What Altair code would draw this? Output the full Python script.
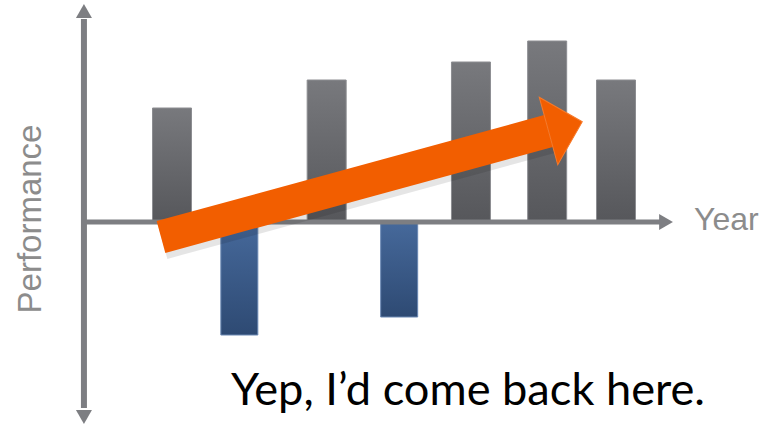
import altair as alt
import pandas as pd

# ---- data ----
# positions of the seven yearly bars along the (unlabelled) year axis, as drawn
year_pos = [1.0, 1.91, 3.09, 4.07, 5.04, 6.07, 7.0]
performance = [114, -113, 142, -95, 160, 181, 142]

# trend arrow (data units): tail -> head base
trend_x = [0.851, 6.088]
trend_y = [-15, 91]

# axis geometry (data units)
axis_x0 = -0.19
axis_x_end = 7.6
axis_y_lo, axis_y_hi = -186, 203

W, H = 776, 426
xs = alt.Scale(domain=[-98 / 74, 678 / 74], nice=False, zero=False, padding=0)
ys = alt.Scale(domain=[-204, 222], nice=False, zero=False, padding=0)

df = pd.DataFrame({"year": year_pos, "value": performance, "zero": [0] * len(year_pos)})

gray_grad = alt.Gradient(
    gradient="linear", x1=0, x2=0, y1=0, y2=1,
    stops=[alt.GradientStop(color="#78797d", offset=0),
           alt.GradientStop(color="#56575b", offset=1)])
blue_grad = alt.Gradient(
    gradient="linear", x1=0, x2=0, y1=0, y2=1,
    stops=[alt.GradientStop(color="#46699b", offset=0),
           alt.GradientStop(color="#2e4a73", offset=1)])

base = alt.Chart(df)
pos_bars = base.transform_filter("datum.value > 0").mark_bar(
    size=39, color=gray_grad, stroke="#8c8d91", strokeWidth=1
).encode(
    x=alt.X("year:Q", scale=xs, axis=None),
    y=alt.Y("value:Q", scale=ys, axis=None),
    y2="zero:Q",
)
neg_bars = base.transform_filter("datum.value < 0").mark_bar(
    size=37, color=blue_grad, stroke="#6a88b3", strokeWidth=1
).encode(
    x=alt.X("year:Q", scale=xs, axis=None),
    y=alt.Y("zero:Q", scale=ys, axis=None),
    y2="value:Q",
)

axis_color = "#7d7e82"
v_axis = alt.Chart(pd.DataFrame({"x": [axis_x0], "y": [axis_y_lo], "y2": [axis_y_hi]})).mark_rule(
    color=axis_color, strokeWidth=6
).encode(
    x=alt.X("x:Q", scale=xs, axis=None),
    y=alt.Y("y:Q", scale=ys, axis=None),
    y2="y2:Q",
)
h_axis = alt.Chart(pd.DataFrame({"x": [axis_x0], "x2": [axis_x_end], "y": [0]})).mark_rule(
    color=axis_color, strokeWidth=5
).encode(
    x=alt.X("x:Q", scale=xs, axis=None),
    x2="x2:Q",
    y=alt.Y("y:Q", scale=ys, axis=None),
)
heads = alt.Chart(pd.DataFrame({
    "x": [axis_x0, axis_x0, 7.676],
    "y": [211, -195, 0],
    "shape": ["triangle-up", "triangle-down", "triangle-right"],
})).mark_point(filled=True, size=256, opacity=1, color=axis_color).encode(
    x=alt.X("x:Q", scale=xs, axis=None),
    y=alt.Y("y:Q", scale=ys, axis=None),
    shape=alt.Shape("shape:N", scale=None, legend=None),
)

# orange trend arrow
shadow = alt.Chart(pd.DataFrame({"x": [v + 2 / 74 for v in trend_x],
                                 "y": [v - 6 for v in trend_y], "o": [0, 1]})).mark_line(
    strokeWidth=33, strokeCap="butt", color="#000000", opacity=0.10
).encode(
    x=alt.X("x:Q", scale=xs, axis=None),
    y=alt.Y("y:Q", scale=ys, axis=None),
    order="o:Q",
)
shaft = alt.Chart(pd.DataFrame({"x": trend_x, "y": trend_y, "o": [0, 1]})).mark_line(
    strokeWidth=33, strokeCap="butt", color="#f25e00"
).encode(
    x=alt.X("x:Q", scale=xs, axis=None),
    y=alt.Y("y:Q", scale=ys, axis=None),
    order="o:Q",
)
head = alt.Chart(pd.DataFrame({"x": [trend_x[1]], "y": [trend_y[1]]})).mark_point(
    shape="M 0,-1 L 1,0 L 0,1 Z", size=4900, angle=344.7, filled=True,
    color="#f25e00", opacity=1, stroke="#f77a2a", strokeWidth=1
).encode(
    x=alt.X("x:Q", scale=xs, axis=None),
    y=alt.Y("y:Q", scale=ys, axis=None),
)

lbl = pd.DataFrame({"t": ["x"]})
year_txt = alt.Chart(lbl).mark_text(
    text="Year", font="Liberation Sans", fontSize=32, color="#8c8c8c",
    align="left", baseline="alphabetic"
).encode(x=alt.value(694), y=alt.value(230))
perf_txt = alt.Chart(lbl).mark_text(
    text="Performance", font="Liberation Sans", fontSize=33, color="#8c8c8c",
    align="center", baseline="middle", angle=270
).encode(x=alt.value(31), y=alt.value(219))
caption = alt.Chart(lbl).mark_text(
    text="Yep, I\u2019d come back here.", font="Lato", fontSize=45.2, color="#000000",
    align="left", baseline="alphabetic"
).encode(x=alt.value(231), y=alt.value(405))

chart = alt.layer(
    pos_bars, neg_bars, h_axis, v_axis, heads, shadow, shaft, head,
    year_txt, perf_txt, caption
).properties(
    width=W, height=H, padding=0,
    autosize=alt.AutoSizeParams(type="none"),
    background="white",
).configure_view(stroke=None)

chart.save("out.html", embed_options={"renderer": "svg", "actions": False})
